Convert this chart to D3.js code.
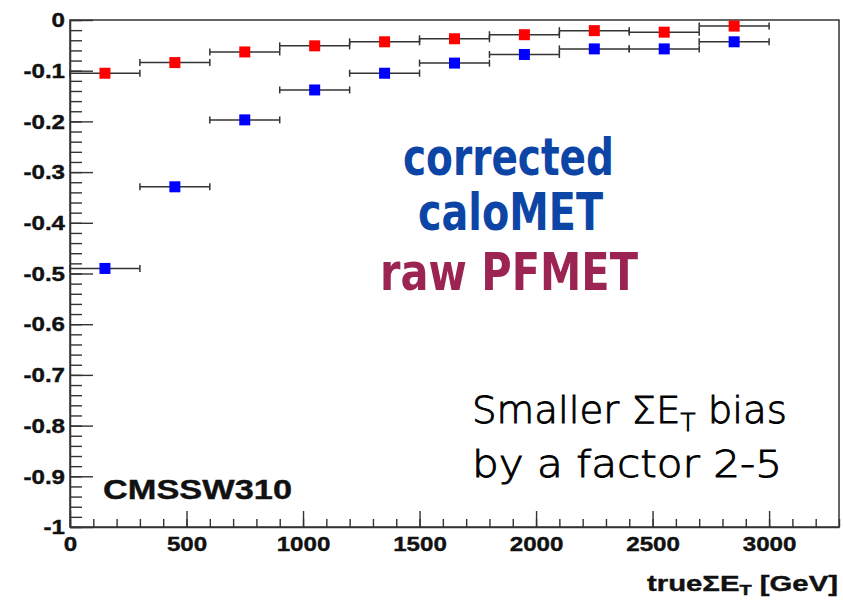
<!DOCTYPE html>
<html>
<head>
<meta charset="utf-8">
<script src="https://cdn.jsdelivr.net/npm/d3@7"></script>
<style>
  html, body { margin: 0; padding: 0; background: #fff; }
  svg { display: block; }
</style>
</head>
<body>
<svg id="chart" width="843" height="603"></svg>
<script>
// Bin centres of true ΣE_T (GeV), each bin 300 GeV wide
const binCenters = [150, 450, 750, 1050, 1350, 1650, 1950, 2250, 2550, 2850];
const binHalfWidth = 150;
// Relative ΣE_T bias per bin
const pfMetBias   = [-0.105, -0.084, -0.063, -0.051, -0.043, -0.037, -0.029, -0.021, -0.024, -0.012];
const caloMetBias = [-0.490, -0.329, -0.197, -0.138, -0.105, -0.085, -0.068, -0.057, -0.057, -0.043];
// Axis ticks
const xMajorTicks = [0, 500, 1000, 1500, 2000, 2500, 3000];
const yMajorTicks = [0, -0.1, -0.2, -0.3, -0.4, -0.5, -0.6, -0.7, -0.8, -0.9, -1];

const svg = d3.select("#chart");
const frame = { left: 70, right: 839, top: 20, bottom: 527 };
const axisColor = "#333";
const labelFont = "'Liberation Sans', Arial, Helvetica, sans-serif";

const x = d3.scaleLinear().domain([0, 3300]).range([frame.left, frame.right]);
const y = d3.scaleLinear().domain([-1, 0]).range([frame.bottom, frame.top]);

// Frame
svg.append("rect")
  .attr("x", frame.left).attr("y", frame.top)
  .attr("width", frame.right - frame.left).attr("height", frame.bottom - frame.top)
  .attr("fill", "none").attr("stroke", axisColor).attr("stroke-width", 1.5);

const fmt = d => String(+(+d).toFixed(1));
const stretch = 1.15;

// Y axis: inward ticks, labels on the left
const yMinor = d3.range(0, 51).map(i => -i * 0.02);
svg.append("g").attr("transform", `translate(${frame.left},0)`)
  .call(d3.axisLeft(y).tickValues(yMinor).tickSizeInner(-12).tickSizeOuter(0).tickFormat(""))
  .call(g => g.select(".domain").remove());
const yAxis = svg.append("g").attr("transform", `translate(${frame.left},0)`)
  .call(d3.axisLeft(y).tickValues(yMajorTicks).tickSizeInner(-23).tickSizeOuter(0).tickPadding(5).tickFormat(fmt));
yAxis.select(".domain").attr("stroke", axisColor).attr("stroke-width", 1.5);
svg.selectAll("g.tick line").attr("stroke", axisColor).attr("stroke-width", 1.4);
yAxis.selectAll("text")
  .attr("font-family", labelFont).attr("font-weight", "bold").attr("font-size", 21)
  .attr("fill", "#111").attr("stroke", "#111").attr("stroke-width", 0.4)
  .attr("transform", `scale(${stretch},1)`)
  .attr("x", -5 / stretch);

// X axis: inward ticks, labels below
const xMinor = d3.range(0, 3301, 100);
svg.append("g").attr("transform", `translate(0,${frame.bottom})`)
  .call(d3.axisBottom(x).tickValues(xMinor).tickSizeInner(-8).tickSizeOuter(0).tickFormat(""))
  .call(g => g.select(".domain").remove())
  .call(g => g.selectAll("line").attr("stroke", axisColor).attr("stroke-width", 1.4));
const xAxis = svg.append("g").attr("transform", `translate(0,${frame.bottom})`)
  .call(d3.axisBottom(x).tickValues(xMajorTicks).tickSizeInner(-16).tickSizeOuter(0).tickPadding(9).tickFormat(fmt));
xAxis.select(".domain").attr("stroke", axisColor).attr("stroke-width", 1.5);
xAxis.selectAll("line").attr("stroke", axisColor).attr("stroke-width", 1.4);
xAxis.selectAll("text")
  .attr("font-family", labelFont).attr("font-weight", "bold").attr("font-size", 21)
  .attr("fill", "#111").attr("stroke", "#111").attr("stroke-width", 0.4)
  .attr("transform", `scale(${stretch},1)`);

// X axis title
const xTitle = svg.append("text")
  .attr("x", 647).attr("y", 591)
  .attr("font-family", labelFont).attr("font-weight", "bold").attr("font-size", 22)
  .attr("fill", "#111").attr("stroke", "#111").attr("stroke-width", 0.4)
  .attr("textLength", 191).attr("lengthAdjust", "spacingAndGlyphs");
xTitle.append("tspan").text("trueΣE");
xTitle.append("tspan").attr("font-size", 15).attr("dy", 4).text("T");
xTitle.append("tspan").attr("dy", -4).text(" [GeV]");

// Release label
svg.append("text")
  .attr("x", 103).attr("y", 499)
  .attr("font-family", labelFont).attr("font-weight", "bold").attr("font-size", 28)
  .attr("fill", "#111").attr("stroke", "#111").attr("stroke-width", 0.4)
  .attr("textLength", 189).attr("lengthAdjust", "spacingAndGlyphs")
  .text("CMSSW310");

// Data series with horizontal bin-width error bars
const series = [
  { name: "caloMET", values: caloMetBias, color: "#0000ff" },
  { name: "PFMET", values: pfMetBias, color: "#ff0000" }
];
const markerSize = 11;
series.forEach(s => {
  const pts = binCenters.map((c, i) => ({ c, v: s.values[i] }));
  const g = svg.append("g").attr("class", s.name);
  const eb = g.selectAll("g.err").data(pts).join("g").attr("class", "err")
    .attr("stroke", axisColor).attr("stroke-width", 1.5);
  eb.append("line")
    .attr("x1", d => x(d.c - binHalfWidth)).attr("x2", d => x(d.c + binHalfWidth))
    .attr("y1", d => y(d.v)).attr("y2", d => y(d.v));
  eb.append("line")
    .attr("x1", d => x(d.c - binHalfWidth)).attr("x2", d => x(d.c - binHalfWidth))
    .attr("y1", d => y(d.v) - 3.5).attr("y2", d => y(d.v) + 3.5);
  eb.append("line")
    .attr("x1", d => x(d.c + binHalfWidth)).attr("x2", d => x(d.c + binHalfWidth))
    .attr("y1", d => y(d.v) - 3.5).attr("y2", d => y(d.v) + 3.5);
  g.selectAll("rect").data(pts).join("rect")
    .attr("x", d => x(d.c) - markerSize / 2).attr("y", d => y(d.v) - markerSize / 2)
    .attr("width", markerSize).attr("height", markerSize)
    .attr("fill", s.color);
});

// Legend-style annotation
const noteFont = "'DejaVu Sans Condensed', 'DejaVu Sans', sans-serif";
const notes = [
  { text: "corrected", x: 403, y: 175, w: 211, color: "#0d45a6" },
  { text: "caloMET",   x: 418, y: 230, w: 185, color: "#0d45a6" },
  { text: "raw PFMET", x: 380, y: 290, w: 258, color: "#9c2452" }
];
notes.forEach(n => {
  svg.append("text")
    .attr("x", n.x).attr("y", n.y)
    .attr("font-family", noteFont).attr("font-weight", "bold").attr("font-size", 52)
    .attr("fill", n.color)
    .attr("textLength", n.w).attr("lengthAdjust", "spacingAndGlyphs")
    .text(n.text);
});

// Handwritten-style remark
const handFont = "'DejaVu Sans', sans-serif";
const handStyle = sel => sel
  .attr("font-family", handFont).attr("font-weight", 200).attr("font-size", 38)
  .attr("fill", "#000").attr("stroke", "#000").attr("stroke-width", 0.9);
const line1 = svg.append("text")
  .attr("x", 472).attr("y", 423)
  .call(handStyle)
  .attr("textLength", 315).attr("lengthAdjust", "spacingAndGlyphs");
line1.append("tspan").text("Smaller ΣE");
line1.append("tspan").attr("font-size", 24).attr("dy", 8).attr("fill", "#000").text("T");
line1.append("tspan").attr("dy", -8).text(" bias");
svg.append("text")
  .attr("x", 472).attr("y", 477)
  .call(handStyle)
  .attr("textLength", 310).attr("lengthAdjust", "spacingAndGlyphs")
  .text("by a factor 2-5");
</script>
</body>
</html>
